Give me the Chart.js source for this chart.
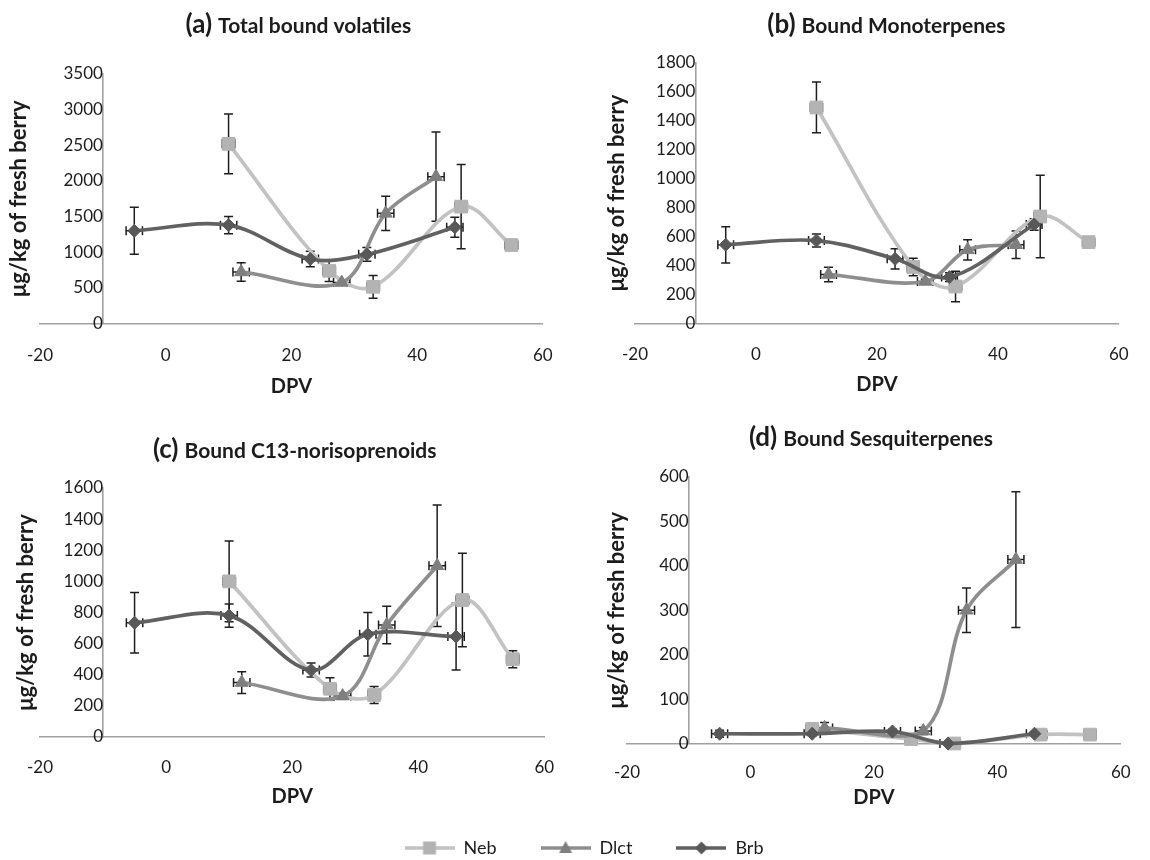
<!DOCTYPE html>
<html><head><meta charset="utf-8">
<script src="https://cdn.jsdelivr.net/npm/chart.js"></script>
<style>
html,body{margin:0;padding:0;background:#fff;}
#wrap{position:relative;width:1150px;height:860px;overflow:hidden;background:#fff;}
canvas{position:absolute;}
</style></head><body>
<div id="wrap">
<canvas id="cA" width="575" height="400" style="left:0;top:0"></canvas>
<canvas id="cB" width="575" height="400" style="left:575px;top:0"></canvas>
<canvas id="cC" width="575" height="430" style="left:0;top:400px"></canvas>
<canvas id="cD" width="575" height="430" style="left:575px;top:400px"></canvas>
<canvas id="cL" width="1150" height="110" style="left:0;top:795px"></canvas>
</div>
<script>
// ---------- DATA ----------
const seriesNames = ['Neb', 'Dlct', 'Brb'];
const dpvNeb  = [10, 26, 33, 47, 55];
const dpvDlct = [12, 28, 35, 43];
const dpvBrb  = [-5, 10, 23, 32, 46];
const horizErr = [1.0, 1.3, 1.3];          // DPV error (Neb, Dlct, Brb)

const panelTags   = ['(a)', '(b)', '(c)', '(d)'];
const panelTitles = ['Total bound volatiles', 'Bound Monoterpenes',
                     'Bound C13-norisoprenoids', 'Bound Sesquiterpenes'];
const yMaxes = [3500, 1800, 1600, 600];
const ySteps = [500, 200, 200, 100];
const xTicks = [-20, 0, 20, 40, 60];

// (a) Total bound volatiles
const totalNeb     = [2520, 740, 515, 1640, 1100];
const totalNebErr  = [420, 150, 160, 590, 30];
const totalDlct    = [723, 575, 1545, 2060];
const totalDlctErr = [130, 40, 240, 625];
const totalBrb     = [1300, 1380, 905, 970, 1350];
const totalBrbErr  = [330, 120, 110, 95, 140];

// (b) Bound Monoterpenes
const monoNeb     = [1490, 390, 255, 738, 561];
const monoNebErr  = [175, 60, 105, 285, 20];
const monoDlct    = [338, 290, 508, 543];
const monoDlctErr = [50, 15, 70, 95];
const monoBrb     = [543, 572, 446, 320, 683];
const monoBrbErr  = [125, 45, 70, 30, 40];

// (c) Bound C13-norisoprenoids
const noriNeb     = [1000, 310, 270, 880, 500];
const noriNebErr  = [260, 70, 55, 300, 55];
const noriDlct    = [350, 263, 720, 1100];
const noriDlctErr = [70, 20, 120, 390];
const noriBrb     = [734, 780, 430, 660, 645];
const noriBrbErr  = [195, 75, 45, 140, 215];

// (d) Bound Sesquiterpenes
const sesqNeb     = [33, 10, 0, 20, 20];
const sesqNebErr  = [5, 3, 2, 3, 3];
const sesqDlct    = [35, 28, 300, 414];
const sesqDlctErr = [12, 8, 50, 153];
const sesqBrb     = [22, 22, 27, 0, 22];
const sesqBrbErr  = [8, 5, 5, 2, 4];

// ---------- STYLE ----------
const FONT = 'Lato, "Open Sans", sans-serif';
const LINE = ['#c2c2c2', '#8e8e8e', '#616161'];
const FILL = ['#b3b3b3', '#7f7f7f', '#585858'];
const STYLE = ['rect', 'triangle', 'rectRot'];
const RAD = [9, 7.5, 6.5];
const TXT = '#1c1c1c';
const AXIS = '#a0a0a0';

const layouts = [
  {id:'cA', pl:4, pr:27, pt:74,   pb:3,  wT:36, ytPad:4,  tBase:32.5, tShift:7,   hX:73.5, pX:22.3, pY:10},
  {id:'cB', pl:4, pr:22, pt:62.5, pb:5,  wT:56, ytPad:27, tBase:32.5, tShift:9.5, hX:71.5, pX:21.3, pY:21},
  {id:'cC', pl:4, pr:30, pt:88,   pb:23, wT:36, ytPad:11, tBase:57.5, tShift:2.5, hX:70,   pX:20.8, pY:21},
  {id:'cD', pl:4, pr:13, pt:77,   pb:22, wT:48, ytPad:27, tBase:45.5, tShift:-3,  hX:64.5, pX:19.3, pY:21}
];

const panelData = [
  [[dpvNeb, totalNeb, totalNebErr], [dpvDlct, totalDlct, totalDlctErr], [dpvBrb, totalBrb, totalBrbErr]],
  [[dpvNeb, monoNeb, monoNebErr],   [dpvDlct, monoDlct, monoDlctErr],   [dpvBrb, monoBrb, monoBrbErr]],
  [[dpvNeb, noriNeb, noriNebErr],   [dpvDlct, noriDlct, noriDlctErr],   [dpvBrb, noriBrb, noriBrbErr]],
  [[dpvNeb, sesqNeb, sesqNebErr],   [dpvDlct, sesqDlct, sesqDlctErr],   [dpvBrb, sesqBrb, sesqBrbErr]]
];

// ---------- PLUGINS ----------
const errorBars = {
  id: 'errorBars',
  beforeDatasetsDraw(chart) {
    const ctx = chart.ctx, xs = chart.scales.x, ys = chart.scales.y;
    const cap = 4.5;
    ctx.save();
    ctx.strokeStyle = '#1e1e1e';
    ctx.lineWidth = 1.5;
    chart.data.datasets.forEach((ds, di) => {
      if (!chart.isDatasetVisible(di)) return;
      ds.data.forEach((p, i) => {
        const px = xs.getPixelForValue(p.x), py = ys.getPixelForValue(p.y);
        const e = ds.errY[i];
        ctx.beginPath();
        if (e > 0) {
          const y1 = ys.getPixelForValue(p.y + e), y2 = ys.getPixelForValue(p.y - e);
          ctx.moveTo(px, y1); ctx.lineTo(px, y2);
          ctx.moveTo(px - cap, y1); ctx.lineTo(px + cap, y1);
          ctx.moveTo(px - cap, y2); ctx.lineTo(px + cap, y2);
        }
        const ex = ds.errX;
        if (ex > 0) {
          const x1 = xs.getPixelForValue(p.x - ex), x2 = xs.getPixelForValue(p.x + ex);
          ctx.moveTo(x1, py); ctx.lineTo(x2, py);
          ctx.moveTo(x1, py - cap); ctx.lineTo(x1, py + cap);
          ctx.moveTo(x2, py - cap); ctx.lineTo(x2, py + cap);
        }
        ctx.stroke();
      });
    });
    ctx.restore();
  }
};

// panel title: larger "(a)" tag followed by the bold title text, centred over the plot
const splitTitle = {
  id: 'splitTitle',
  afterDraw(chart, args, opts) {
    const ctx = chart.ctx, ca = chart.chartArea;
    const tagFont = 'bold ' + opts.tagSize + 'px ' + FONT;
    const mainFont = 'bold ' + opts.mainSize + 'px ' + FONT;
    ctx.save();
    ctx.fillStyle = TXT; ctx.textBaseline = 'alphabetic'; ctx.textAlign = 'left';
    ctx.font = tagFont; const w1 = ctx.measureText(opts.tag).width;
    ctx.font = mainFont; const w2 = ctx.measureText(opts.text).width;
    const x = (ca.left + ca.right) / 2 + opts.shift - (w1 + opts.gap + w2) / 2;
    ctx.font = tagFont; ctx.fillText(opts.tag, x, opts.baseline);
    ctx.font = mainFont; ctx.fillText(opts.text, x + w1 + opts.gap, opts.baseline);
    ctx.restore();
  }
};

function makeDataset(idx, triple) {
  const [xsArr, ysArr, errs] = triple;
  return {
    label: seriesNames[idx],
    data: xsArr.map((x, i) => ({x: x, y: ysArr[i]})),
    errY: errs,
    errX: horizErr[idx],
    showLine: true,
    tension: 0.35,
    borderColor: LINE[idx],
    borderWidth: 3.7,
    backgroundColor: FILL[idx],
    pointBackgroundColor: FILL[idx],
    pointBorderColor: FILL[idx],
    pointBorderWidth: 1,
    pointStyle: STYLE[idx],
    pointRadius: RAD[idx],
    pointHoverRadius: RAD[idx],
    clip: false,
    order: 3 - idx
  };
}

panelData.forEach((series, k) => {
  const L = layouts[k];
  new Chart(document.getElementById(L.id), {
    type: 'scatter',
    data: { datasets: series.map((s, i) => makeDataset(i, s)) },
    plugins: [errorBars, splitTitle],
    options: {
      responsive: false, animation: false, devicePixelRatio: 1, events: [],
      layout: { padding: { left: L.pl, right: L.pr, top: L.pt, bottom: L.pb } },
      plugins: {
        legend: { display: false },
        tooltip: { enabled: false },
        title: { display: false, text: panelTags[k] + ' ' + panelTitles[k] },
        splitTitle: { tag: panelTags[k], text: panelTitles[k], tagSize: 26, mainSize: 21,
                      gap: 6, baseline: L.tBase, shift: L.tShift }
      },
      scales: {
        x: {
          type: 'linear', position: 'bottom', min: -20, max: 60,
          afterBuildTicks: s => { s.ticks = xTicks.map(v => ({value: v})); },
          ticks: { padding: L.pX, color: TXT, font: { family: FONT, size: 17 }, callback: v => String(v) },
          grid: { display: false, drawTicks: false },
          border: { display: true, color: AXIS, width: 1.6 },
          title: { display: true, text: 'DPV', color: TXT, padding: 0,
                   font: { family: FONT, size: 20, weight: 'bold', lineHeight: 1 } },
          afterFit: s => { s.height = L.hX; }
        },
        y: {
          type: 'linear', position: { x: -10 }, min: 0, max: yMaxes[k],
          ticks: { stepSize: ySteps[k], padding: L.pY, color: TXT, font: { family: FONT, size: 17 }, callback: v => String(v) },
          grid: { display: false, drawTicks: false },
          border: { display: true, color: AXIS, width: 1.6 },
          afterFit: s => { s.width = 0; }
        },
        yt: {
          type: 'linear', axis: 'y', position: 'left', display: true,
          ticks: { display: false },
          grid: { display: false, drawTicks: false },
          border: { display: false },
          title: { display: true, text: 'μg/kg of fresh berry', color: TXT,
                   font: { family: FONT, size: 22, weight: 'bold', lineHeight: 1 },
                   padding: { top: L.ytPad, bottom: 0 } },
          afterFit: s => { s.width = L.wT; }
        }
      }
    }
  });
});

// ---------- LEGEND ----------
function legendIcon(i) {
  const c = document.createElement('canvas');
  c.width = 50; c.height = 18;
  const g = c.getContext('2d');
  g.strokeStyle = LINE[i]; g.lineWidth = 3.7;
  g.beginPath(); g.moveTo(0, 9); g.lineTo(50, 9); g.stroke();
  g.fillStyle = FILL[i];
  g.beginPath();
  if (i === 0) { g.rect(25 - 6.5, 9 - 6.5, 13, 13); }
  else if (i === 1) { g.moveTo(25, 2); g.lineTo(31.5, 14); g.lineTo(18.5, 14); g.closePath(); }
  else { g.moveTo(25, 2.5); g.lineTo(31.5, 9); g.lineTo(25, 15.5); g.lineTo(18.5, 9); g.closePath(); }
  g.fill();
  return c;
}
const legendIcons = [0, 1, 2].map(legendIcon);

new Chart(document.getElementById('cL'), {
  type: 'line',
  data: { datasets: seriesNames.map(n => ({ label: n, data: [] })) },
  options: {
    responsive: false, animation: false, devicePixelRatio: 1, events: [],
    layout: { padding: { left: 18 } },
    scales: { x: { display: false }, y: { display: false } },
    plugins: {
      tooltip: { enabled: false },
      title: { display: false },
      legend: {
        display: true, position: 'top', align: 'center', maxHeight: 300,
        labels: {
          usePointStyle: true, pointStyleWidth: 50, padding: 44, color: TXT,
          font: { family: FONT, size: 18 },
          generateLabels: () => seriesNames.map((n, i) => ({
            text: n, pointStyle: legendIcons[i], fillStyle: FILL[i], strokeStyle: LINE[i],
            lineWidth: 0, hidden: false, datasetIndex: i, fontColor: TXT
          }))
        }
      }
    }
  }
});
</script>
</body></html>
